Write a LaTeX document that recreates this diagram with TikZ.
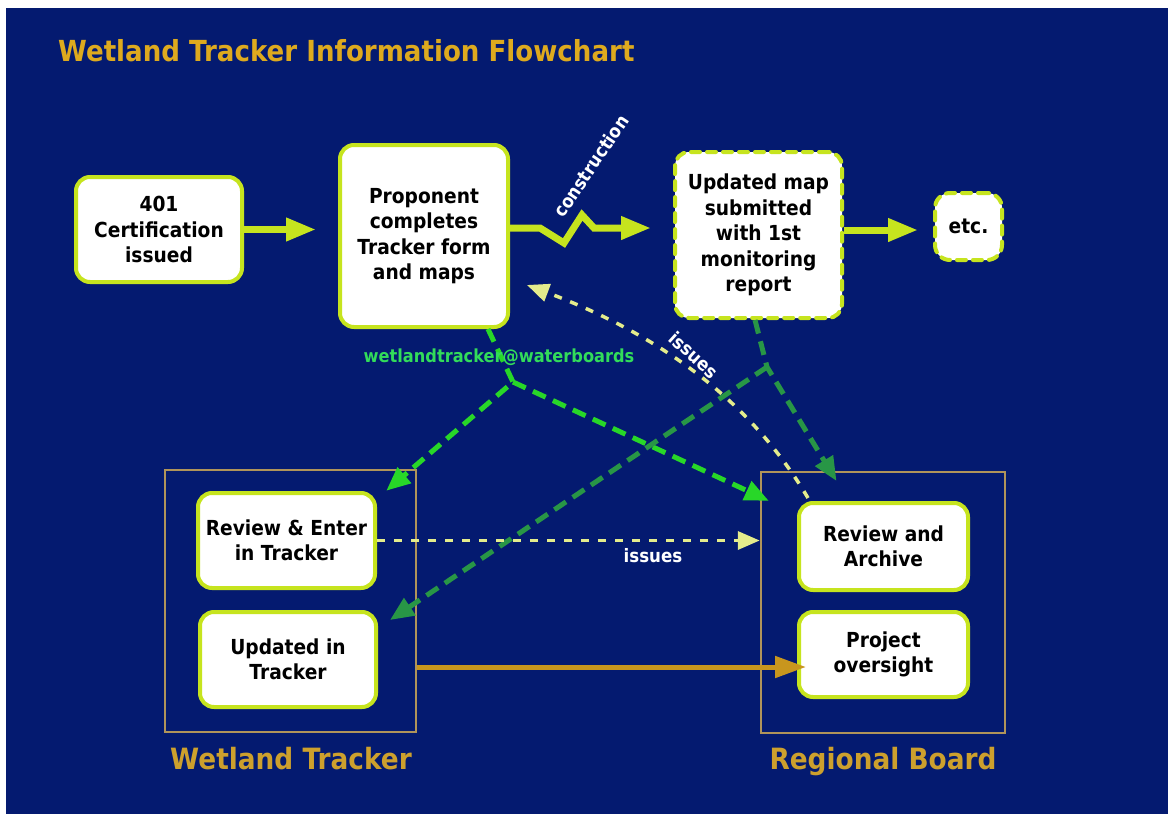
\documentclass[tikz,border=0pt]{standalone}
\usepackage{fontspec}
\setmainfont{DejaVu Sans}[FakeStretch=0.9]
\usetikzlibrary{arrows.meta}
\definecolor{bg}{RGB}{4,26,112}
\definecolor{ygreen}{RGB}{198,228,30}
\definecolor{paleyel}{RGB}{228,236,140}
\definecolor{lgreen}{RGB}{40,215,40}
\definecolor{dgreen}{RGB}{40,150,70}
\definecolor{mailtxt}{RGB}{50,220,90}
\definecolor{gold}{RGB}{222,170,30}
\definecolor{labgold}{RGB}{205,160,45}
\definecolor{tanframe}{RGB}{176,148,90}
\definecolor{brownarr}{RGB}{200,150,30}
\begin{document}
\begin{tikzpicture}[x=1pt,y=-1pt,
  box/.style={draw=ygreen, line width=4pt, fill=white, rounded corners=14pt,
    align=center, inner sep=0pt, text=black,
    font=\bfseries\fontsize{20.7}{25.5}\selectfont},
  dbox/.style={box, dash pattern=on 9pt off 7pt, line cap=round},
  frame/.style={draw=tanframe, line width=2.5pt, inner sep=0pt},
  solidarr/.style={draw=ygreen, line width=7pt, -{Triangle[length=30pt,width=22pt]}},
  lgdash/.style={draw=lgreen, line width=5pt, dash pattern=on 14pt off 8pt,
    -{Triangle[length=24pt,width=20pt]}},
  dgdash/.style={draw=dgreen, line width=5pt, dash pattern=on 14pt off 8pt,
    -{Triangle[length=24pt,width=20pt]}},
  paledash/.style={draw=paleyel, line width=3.5pt, dash pattern=on 8pt off 9pt,
    -{Triangle[length=22pt,width=18pt]}},
  brownline/.style={draw=brownarr, line width=5pt, -{Triangle[length=31pt,width=21pt]}},
  lab/.style={inner sep=0pt, font=\bfseries\fontsize{18.5}{20}\selectfont},
  biglab/.style={inner sep=0pt, text=labgold, font=\bfseries\fontsize{29.3}{31}\selectfont}
]
\useasboundingbox (0,0) rectangle (1168,814);
\fill[white] (0,0) rectangle (1168,814);
\fill[bg] (6,8) rectangle (1168,814);

\node[inner sep=0pt, anchor=west, text=gold, font=\bfseries\fontsize{29}{31}\selectfont]
  (title) at (58,51) {Wetland Tracker Information Flowchart};

% containers
\node[frame, minimum width=251pt, minimum height=262pt] (wtbox) at (290.5,601) {};
\node[frame, minimum width=244pt, minimum height=261pt] (rbbox) at (883,602.5) {};
\node[biglab, anchor=base] (wtlab) at (291,769) {Wetland Tracker};
\node[biglab, anchor=base] (rblab) at (883,769) {Regional Board};

% boxes
\node[box, minimum width=166pt, minimum height=105pt] (cert) at (159,229.5) {401\\Certification\\issued};
\node[box, minimum width=168pt, minimum height=182pt] (prop) at (424,236) {Proponent\\completes\\Tracker form\\and maps};
\node[dbox, minimum width=167pt, minimum height=166pt] (upd) at (758.5,235) {Updated map\\submitted\\with 1st\\monitoring\\report};
\node[dbox, rounded corners=15pt, minimum width=67pt, minimum height=67pt] (etc) at (968.5,226.5) {etc.};
\node[box, minimum width=177pt, minimum height=95pt] (rev) at (286.5,540.5) {Review \& Enter\\in Tracker};
\node[box, minimum width=176pt, minimum height=95pt] (upt) at (288,659.5) {Updated in\\Tracker};
\node[box, minimum width=169pt, minimum height=87pt] (arch) at (883.5,546.5) {Review and\\Archive};
\node[box, minimum width=169pt, minimum height=85pt] (proj) at (883.5,654.5) {Project\\oversight};

% solid flow
\draw[solidarr] (cert.east) -- ([xshift=-22pt]cert.east -| prop.west);
\draw[solidarr] ([yshift=8pt]prop.east) -- ++(30,0) -- ++(24,15) -- ++(18,-28) -- ++(12,13)
  -- ([xshift=-22pt,yshift=7pt]upd.west);
\draw[solidarr] ([yshift=5pt]upd.east) -- ([xshift=-15pt,yshift=-3.5pt]etc.west);
\node[lab, text=white, rotate=56] (constr) at (591,166) {construction};

% email distribution
\coordinate (j1) at (513,382);
\draw[lgdash] ([xshift=64pt]prop.south) -- (j1) -- ([xshift=-31pt,yshift=-22pt]wtbox.north east);
\draw[lgdash] (j1) -- ([xshift=9pt,yshift=-30pt]rbbox.north west);
\node[lab, text=mailtxt, font=\bfseries\fontsize{18}{20}\selectfont] (mail) at (499,357) {wetlandtracker@waterboards};

% monitoring distribution
\coordinate (j2) at (767,367);
\draw[dgdash] ([xshift=-3.5pt]upd.south) -- (j2) -- ([xshift=-47pt,yshift=20pt]arch.north);
\draw[dgdash] (j2) -- ([xshift=12pt,yshift=-10pt]upt.north east);

% issues
\draw[paledash] ([xshift=11pt,yshift=3pt]arch.north west) .. controls (750,400) and (660,335) .. ([xshift=17pt,yshift=44pt]prop.south east);
\node[lab, text=white, rotate=-42] (iss1) at (694,355) {issues};
\draw[paledash] (rev.east) -- (rev.east -| rbbox.west);
\node[lab, text=white] (iss2) at (653,556) {issues};

% oversight
\path ([yshift=-12.5pt]proj.west) coordinate (pj);
\draw[brownline] (wtbox.east |- pj) -- ([xshift=9pt]pj);
\end{tikzpicture}
\end{document}
